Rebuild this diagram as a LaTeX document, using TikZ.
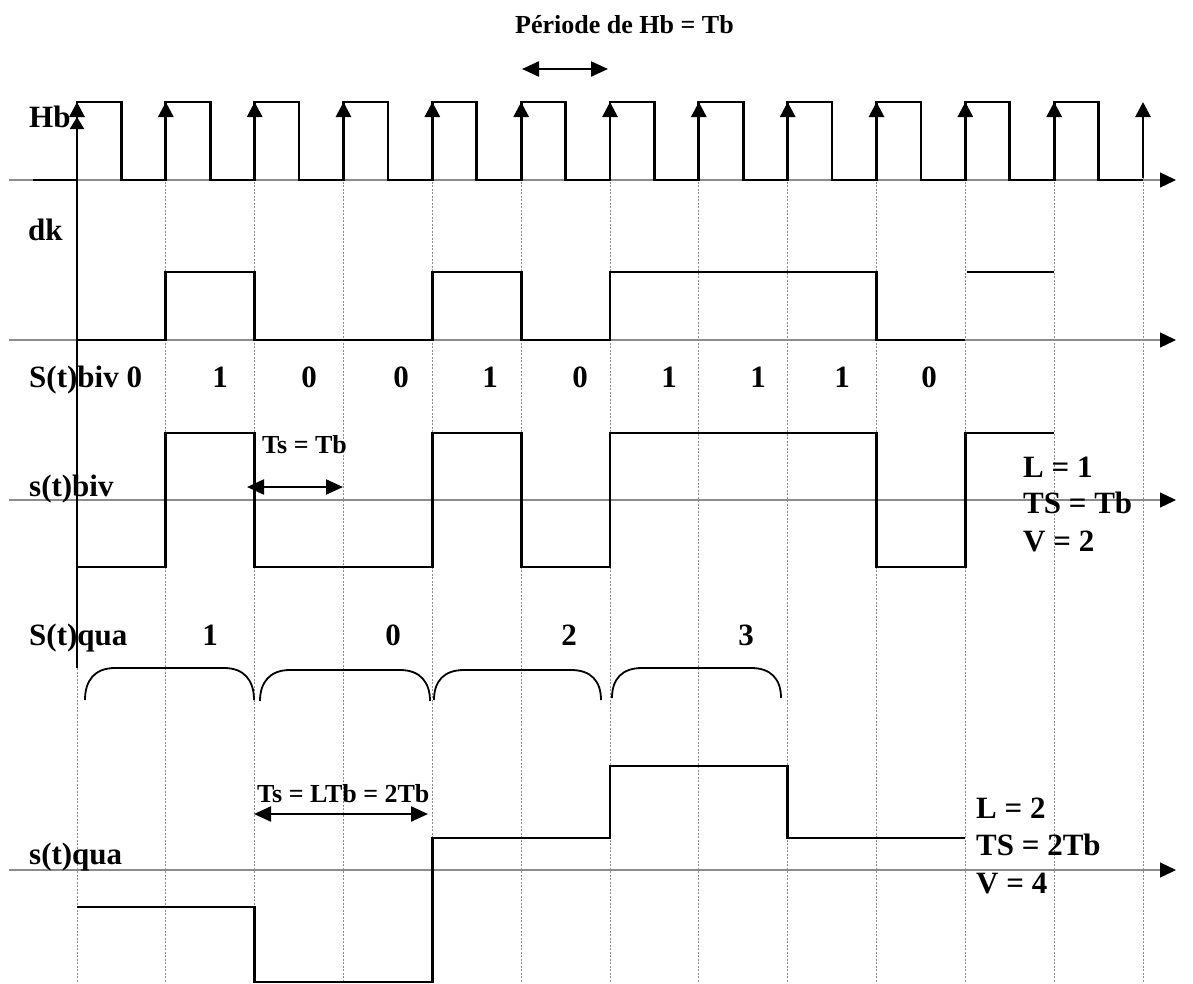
\documentclass[tikz,border=0pt]{standalone}
\usepackage{fontspec}
\setmainfont{Liberation Serif}
\usetikzlibrary{arrows.meta}
\begin{document}
\begin{tikzpicture}[x=1pt,y=-1pt,
  sig/.style={line width=2.8pt},
  axisline/.style={line width=1.2pt, draw=black!45, -{Triangle[length=16pt,width=15pt,color=black]}},
  gridl/.style={draw=black!45, line width=0.7pt, dash pattern=on 2pt off 1.5pt},
  clk/.style={line width=2.8pt, -{Triangle[length=15pt,width=15pt]}},
  dim/.style={line width=2.2pt, {Triangle[length=17pt,width=15pt]}-{Triangle[length=17pt,width=15pt]}},
  brace/.style={line width=1.8pt},
  lbl/.style={font=\fontsize{31}{31}\selectfont\bfseries, anchor=base west, inner sep=0pt},
  num/.style={font=\fontsize{31}{31}\selectfont\bfseries, anchor=base, inner sep=0pt},
  sml/.style={font=\fontsize{26}{26}\selectfont\bfseries, anchor=base west, inner sep=0pt}]
\useasboundingbox (0,0) rectangle (1193,983);
\def\p{88.833}
% grid
\foreach \i in {1,...,12} \draw[gridl] ({77+\p*\i},115) -- ({77+\p*\i},983);
\draw[gridl] (77,668) -- (77,983);
% horizontal axes
\foreach \y in {180,340,500,870} \draw[axisline] (9,\y) -- (1176,\y);
% clock
\draw[sig] (33,180) foreach \i in {0,...,11} { -- ({77+\p*\i},180) -- ({77+\p*\i},102) -- ({121.4+\p*\i},102) -- ({121.4+\p*\i},180) } -- (1143,180);
\foreach \i in {0,...,12} \draw[clk] ({77+\p*\i},178) -- ({77+\p*\i},102);
% vertical axis
\draw[line width=2pt, -{Triangle[length=12pt,width=14pt]}] (77,668) -- (77,117);
% dk
\draw[sig] (77,340) -- (165.8,340) -- (165.8,272) -- (254.7,272) -- (254.7,340) -- (432.3,340) -- (432.3,272) -- (521.2,272) -- (521.2,340) -- (610,340) -- (610,272) -- (876.5,272) -- (876.5,340) -- (965.3,340);
\draw[sig] (967,272) -- (1054.2,272);
% s(t) biv
\draw[sig] (77,567) -- (165.8,567) -- (165.8,433) -- (254.7,433) -- (254.7,567) -- (432.3,567) -- (432.3,433) -- (521.2,433) -- (521.2,567) -- (610,567) -- (610,433) -- (876.5,433) -- (876.5,567) -- (965.3,567) -- (965.3,433) -- (1054.2,433);
% s(t) qua
\draw[sig] (77,907) -- (254.7,907) -- (254.7,982) -- (432.3,982) -- (432.3,838) -- (610,838) -- (610,766) -- (787.7,766) -- (787.7,838) -- (965.3,838);
% braces
\draw[brace] (85,700) .. controls (85,680) and (95,668) .. (115,668) -- (224,668) .. controls (244,668) and (254,680) .. (254,700);
\draw[brace] (260,701) .. controls (260,682) and (270,670) .. (290,670) -- (400,670) .. controls (420,670) and (430,682) .. (430,701);
\draw[brace] (434,700) .. controls (434,681) and (444,670) .. (464,670) -- (571,670) .. controls (591,670) and (601,681) .. (601,700);
\draw[brace] (612,698) .. controls (612,679) and (622,668) .. (642,668) -- (751,668) .. controls (771,668) and (781,679) .. (781,698);
% dimension arrows
\coordinate (pa) at (522,69); \coordinate (pb) at (608,69);
\draw[dim] (pa) -- (pb);
\coordinate (ta) at (247,487); \coordinate (tb) at (343,487);
\draw[dim] (ta) -- (tb);
\coordinate (qa) at (254,814); \coordinate (qb) at (428,814);
\draw[dim] (qa) -- (qb);
% labels
\node[sml] (title) at (515,33) {Période de Hb = Tb};
\node[lbl] (hb) at (29,127) {Hb};
\node[lbl] (dk) at (28,240) {dk};
\node[lbl] (sbiv) at (29,387) {S(t)biv 0};
\node[num] (b1) at (220,387) {1};
\node[num] (b2) at (309,387) {0};
\node[num] (b3) at (401,387) {0};
\node[num] (b4) at (490,387) {1};
\node[num] (b5) at (580,387) {0};
\node[num] (b6) at (669,387) {1};
\node[num] (b7) at (758,387) {1};
\node[num] (b8) at (842,387) {1};
\node[num] (b9) at (929,387) {0};
\node[lbl] (sbivl) at (29,496) {s(t)biv};
\node[sml] (tstb) at (262,453) {Ts = Tb};
\node[lbl] (l1) at (1023,477) {L = 1};
\node[lbl] (ts1) at (1023,513) {TS = Tb};
\node[lbl] (v2) at (1023,551) {V = 2};
\node[lbl] (squa) at (29,645) {S(t)qua};
\node[num] (q1) at (210,645) {1};
\node[num] (q2) at (393,645) {0};
\node[num] (q3) at (569,645) {2};
\node[num] (q4) at (746,645) {3};
\node[sml] (tsl) at (257,802) {Ts = LTb = 2Tb};
\node[lbl] (squal) at (29,864) {s(t)qua};
\node[lbl] (l2) at (976,818) {L = 2};
\node[lbl] (ts2) at (976,855) {TS = 2Tb};
\node[lbl] (v4) at (976,893) {V = 4};
\end{tikzpicture}
\end{document}
